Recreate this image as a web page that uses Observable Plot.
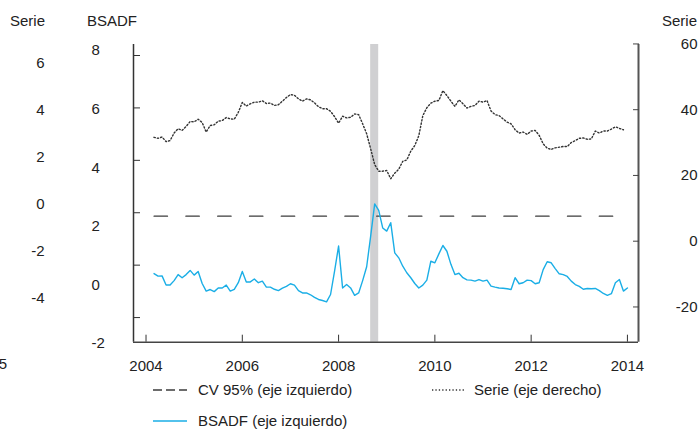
<!DOCTYPE html>
<html><head><meta charset="utf-8">
<script src="https://cdn.jsdelivr.net/npm/d3@7"></script>
<script src="https://cdn.jsdelivr.net/npm/@observablehq/plot@0.6"></script>
<style>
body{margin:0;background:#fff;}
#chart{position:relative;width:699px;height:431px;font-family:"Liberation Sans",Arial,Helvetica,sans-serif;color:#222;overflow:hidden;}
#chart svg{position:absolute;left:0;top:0;overflow:visible;}
.lbl{position:absolute;font-size:15px;line-height:18px;white-space:nowrap;}
</style></head><body><div id="chart"></div>
<script>
// ---- data (monthly, starting March 2004) ----
const firstMonth = 2004 + 2/12;
const bsadf = [-0.32,-0.42,-0.41,-0.76,-0.76,-0.59,-0.36,-0.48,-0.36,-0.20,
 -0.38,-0.24,-0.70,-0.99,-0.93,-1.01,-0.87,-0.87,-0.76,-0.99,
 -0.92,-0.67,-0.24,-0.64,-0.64,-0.53,-0.67,-0.61,-0.84,-0.84,
 -0.92,-0.97,-0.88,-0.81,-0.71,-0.76,-0.97,-1.06,-1.06,-1.13,
 -1.23,-1.31,-1.35,-1.40,-1.12,-0.23,0.73,-0.87,-0.74,-0.87,
 -1.15,-1.06,-0.59,-0.06,1.11,2.34,2.09,1.42,1.30,1.62,
 0.47,0.28,-0.04,-0.29,-0.48,-0.70,-0.87,-0.76,-0.57,0.15,
 0.09,0.43,0.75,0.53,0.03,-0.36,-0.31,-0.48,-0.56,-0.57,
 -0.61,-0.55,-0.61,-0.57,-0.80,-0.84,-0.87,-0.88,-0.90,-0.93,
 -0.48,-0.71,-0.67,-0.57,-0.59,-0.71,-0.67,-0.17,0.13,0.09,
 -0.13,-0.33,-0.36,-0.43,-0.61,-0.74,-0.81,-0.92,-0.89,-0.90,
 -0.89,-0.97,-1.08,-1.15,-1.09,-0.67,-0.55,-0.99,-0.87];
const serie = [31.6,31.3,31.7,30.3,30.6,32.9,34.2,33.7,34.9,36.4,
 36.3,37.1,36.1,33.2,35.2,35.4,36.5,36.7,37.6,37.2,
 37.1,39.2,42.2,41.1,41.8,42.3,42.3,42.7,41.9,42.0,
 41.3,41.5,42.6,43.7,44.6,44.4,43.3,42.6,43.3,43.0,
 42.1,40.9,40.3,40.3,39.5,37.9,35.9,38.0,37.5,37.7,
 38.7,38.5,35.7,32.7,28.1,23.3,21.3,21.3,21.5,19.0,
 20.7,21.9,24.3,24.7,27.4,29.1,32.1,38.2,40.6,42.0,
 42.6,42.8,45.8,44.3,42.6,41.0,43.0,41.8,40.5,41.0,
 41.3,42.6,42.3,42.8,39.6,38.5,38.2,37.2,36.2,35.7,
 33.9,32.9,33.2,32.5,33.5,33.7,32.2,29.6,28.3,27.9,
 28.4,28.6,28.8,28.8,30.0,30.6,31.3,31.4,31.0,31.1,
 33.5,32.9,33.5,33.5,34.1,34.8,34.3,33.9];
const cv95 = 1.87;
const crisis = [[2008 + 8/12, 2008 + 10/12]];
const xTicks = [2004, 2006, 2008, 2010, 2012, 2014];
const bsadfTicks = [8, 6, 4, 2, 0, -2];
const serieLeftTicks = [6, 4, 2, 0, -2, -4];
const serieRightTicks = [60, 40, 20, 0, -20];
const legendItems = ["CV 95% (eje izquierdo)", "Serie (eje derecho)", "BSADF (eje izquierdo)"];

// ---- scales ----
const W = 699, H = 375;
const FONT = '"Liberation Sans",Arial,Helvetica,sans-serif';
const xDomain = [2003.74, 2014.23];
const yDomain = [-2.94, 8.42];
const serieDomain = [-30.72, 59.83];
const toB = d3.scaleLinear().domain(serieDomain).range(yDomain);
const dateOf = i => firstMonth + i / 12;

const bsadfData = bsadf.map((v, i) => ({x: dateOf(i), y: v}));
const serieData = serie.map((v, i) => ({x: dateOf(i), y: toB(v)}));
const cvData = [{x: dateOf(0), y: cv95}, {x: dateOf(bsadf.length - 1), y: cv95}];

const BLUE = "#1aaee6";
const chart = document.getElementById("chart");

const main = Plot.plot({
  width: W, height: H,
  marginLeft: 133, marginRight: 61, marginTop: 44, marginBottom: H - 341.7,
  x: {domain: xDomain, label: null},
  y: {domain: yDomain, label: null},
  style: {fontSize: "15px", fontFamily: FONT, color: "#222", background: "transparent"},
  marks: [
    Plot.rect(crisis, {x1: d => d[0], x2: d => d[1], fill: "#d0d0d2"}),
    Plot.line(cvData, {x: "x", y: "y", stroke: "#3c3c3c", strokeWidth: 1.2, strokeDasharray: "13.5,18.3"}),
    Plot.line(serieData, {x: "x", y: "y", stroke: "#333", strokeWidth: 1.4, strokeDasharray: "1.3,2.1"}),
    Plot.line(bsadfData, {x: "x", y: "y", stroke: BLUE, strokeWidth: 1.4}),
    Plot.ruleX([xDomain[0]], {stroke: "#333", strokeWidth: 1.5}),
    Plot.ruleX([xDomain[1]], {stroke: "#555", strokeWidth: 2}),
    Plot.ruleY([yDomain[0]], {stroke: "#444", strokeWidth: 1.5}),
    Plot.axisX(xTicks, {label: null, tickSize: -7, tickPadding: 25, tickFormat: d => String(d), stroke: "#333", fill: "#222"}),
    Plot.axisY(bsadfTicks, {label: null, anchor: "left", tickSize: -7, tickFormat: () => "", stroke: "#333"}),
    Plot.axisY(serieRightTicks.map(toB), {label: null, anchor: "right", tickSize: -6, tickFormat: () => "", stroke: "#444"}),
    Plot.text(serieRightTicks, {y: d => toB(d), text: d => String(d), frameAnchor: "right", textAnchor: "end", dx: 59, fill: "#222"})
  ]
});
chart.appendChild(main);

// left "Serie" axis labels
const leftSerie = Plot.plot({
  width: 60, height: H, marginLeft: 44, marginRight: 0, marginTop: 0, marginBottom: 0,
  y: {domain: [-4, 6], range: [298, 63], label: null},
  style: {fontSize: "15px", fontFamily: FONT, color: "#222", background: "transparent"},
  marks: [Plot.axisY(serieLeftTicks, {label: null, anchor: "left", tickSize: 0, tickPadding: 0, tickFormat: d => String(d)})]
});
chart.appendChild(leftSerie);

// BSADF axis labels
const leftB = Plot.plot({
  width: 130, height: H, marginLeft: 0, marginRight: 39, marginTop: 0, marginBottom: 0,
  y: {domain: [-2, 8], range: [343, 50], label: null},
  style: {fontSize: "15px", fontFamily: FONT, color: "#222", background: "transparent"},
  marks: [Plot.axisY(bsadfTicks, {label: null, anchor: "right", tickSize: 0, tickPadding: 0, tickFormat: d => String(d)})]
});
chart.appendChild(leftB);

// titles and stray label
function addLabel(text, left, top, align) {
  const s = document.createElement("div");
  s.className = "lbl";
  s.textContent = text;
  if (align === "right") { s.style.right = (699 - left) + "px"; } else { s.style.left = left + "px"; }
  s.style.top = top + "px";
  chart.appendChild(s);
}
addLabel("Serie", 10, 12);
addLabel("BSADF", 87, 12);
addLabel("Serie", 697, 12, "right");
addLabel("5", 7, 355, "right");

// legend
function legendSample(left, top, stroke, dash) {
  const ns = "http://www.w3.org/2000/svg";
  const svg = document.createElementNS(ns, "svg");
  svg.setAttribute("width", 34); svg.setAttribute("height", 6);
  svg.style.left = left + "px"; svg.style.top = top + "px";
  const l = document.createElementNS(ns, "line");
  l.setAttribute("x1", 0); l.setAttribute("x2", 34); l.setAttribute("y1", 3); l.setAttribute("y2", 3);
  l.setAttribute("stroke", stroke); l.setAttribute("stroke-width", 1.3);
  if (dash) l.setAttribute("stroke-dasharray", dash);
  svg.appendChild(l);
  chart.appendChild(svg);
}
legendSample(153, 387, "#3c3c3c", "9,4");
addLabel(legendItems[0], 198, 381);
legendSample(432, 387, "#333", "1.3,2.1");
addLabel(legendItems[1], 474, 381);
legendSample(153, 418, BLUE, null);
addLabel(legendItems[2], 198, 412);
</script></body></html>
